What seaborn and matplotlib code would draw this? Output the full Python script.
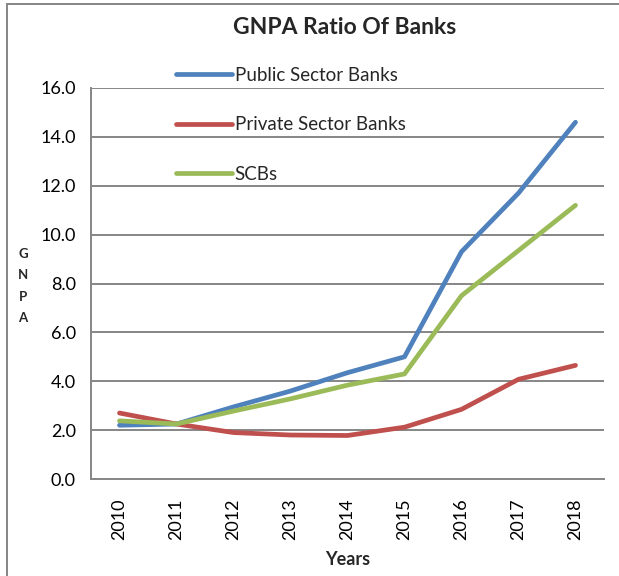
import matplotlib
matplotlib.use("Agg")
import matplotlib.pyplot as plt
from matplotlib.lines import Line2D
from matplotlib.patches import Rectangle
import pandas as pd
import seaborn as sns

years = ["2010", "2011", "2012", "2013", "2014", "2015", "2016", "2017", "2018"]
public_sector = [2.2, 2.25, 2.95, 3.6, 4.35, 5.0, 9.3, 11.7, 14.6]
private_sector = [2.7, 2.25, 1.9, 1.8, 1.78, 2.12, 2.85, 4.08, 4.65]
scbs = [2.38, 2.25, 2.78, 3.28, 3.84, 4.3, 7.5, 9.35, 11.2]
series_names = ["Public Sector Banks", "Private Sector Banks", "SCBs"]
series_colors = ["#4F81BD", "#C0504D", "#9BBB59"]
y_ticks = [0, 2, 4, 6, 8, 10, 12, 14, 16]

rows = []
for name, vals in zip(series_names, [public_sector, private_sector, scbs]):
    for i, (yr, v) in enumerate(zip(years, vals)):
        rows.append({"pos": i, "year": yr, "series": name, "gnpa": v})
df = pd.DataFrame(rows)

sns.set_theme(style="white")
plt.rcParams["font.family"] = ["Lato", "DejaVu Sans"]

fig = plt.figure(figsize=(6.19, 5.76), dpi=100)
ax = fig.add_axes([91 / 619, 1 - 479 / 576, (604 - 91) / 619, (479 - 88) / 576])

sns.lineplot(data=df, x="pos", y="gnpa", hue="series", hue_order=series_names,
             palette=series_colors, linewidth=3.4, sort=False, legend=False,
             ax=ax, solid_capstyle="round")

grid_gray = "#868686"
ax.set_xlim(-0.5, len(years) - 0.5)
ax.set_ylim(0, 16)
ax.set_yticks(y_ticks)
ax.set_yticklabels([f"{t:.1f}" for t in y_ticks], fontsize=13, color="black")
ax.set_xticks(range(len(years)))
ax.set_xticklabels(years, rotation=90, fontsize=13, color="black")
ax.set_xticks([i - 0.5 for i in range(len(years) + 1)], minor=True)
ax.tick_params(axis="x", which="major", length=0, pad=14)
ax.tick_params(axis="x", which="minor", length=6, width=1.2, color=grid_gray, direction="out")
ax.tick_params(axis="y", which="major", length=6, width=1.2, color=grid_gray, direction="out", pad=5)
ax.yaxis.grid(True, color=grid_gray, linewidth=1.4)
ax.set_axisbelow(True)
for side in ["top", "right"]:
    ax.spines[side].set_visible(False)
for side in ["left", "bottom"]:
    ax.spines[side].set_color(grid_gray)
    ax.spines[side].set_linewidth(1.4)

ax.set_xlabel("Years", fontsize=13, fontweight="bold", labelpad=8)
ax.set_ylabel("")
fig.text(23 / 619, 1 - 286 / 576, "G\nN\nP\nA", fontsize=9.5, fontweight="bold",
         ha="center", va="center", linespacing=1.95)

fig.text(345 / 619, 1 - 27 / 576, "GNPA Ratio Of Banks", fontsize=16.5,
         fontweight="bold", ha="center", va="center")

handles = [Line2D([0], [0], color=c, linewidth=3.4, solid_capstyle="round")
           for c in series_colors]
fig.legend(handles, series_names, loc="upper left",
           bbox_to_anchor=(176 / 619, 1 - 67 / 576), frameon=False,
           fontsize=13.5, handlelength=3.0, handletextpad=0.12,
           labelspacing=1.72, borderaxespad=0, borderpad=0)

fig.patches.append(Rectangle((7 / 619, -0.05), 1.2, 1 - 4 / 576 + 0.05,
                             transform=fig.transFigure, fill=False,
                             edgecolor=grid_gray, linewidth=1.4))

fig.savefig("out.png", dpi=100)
